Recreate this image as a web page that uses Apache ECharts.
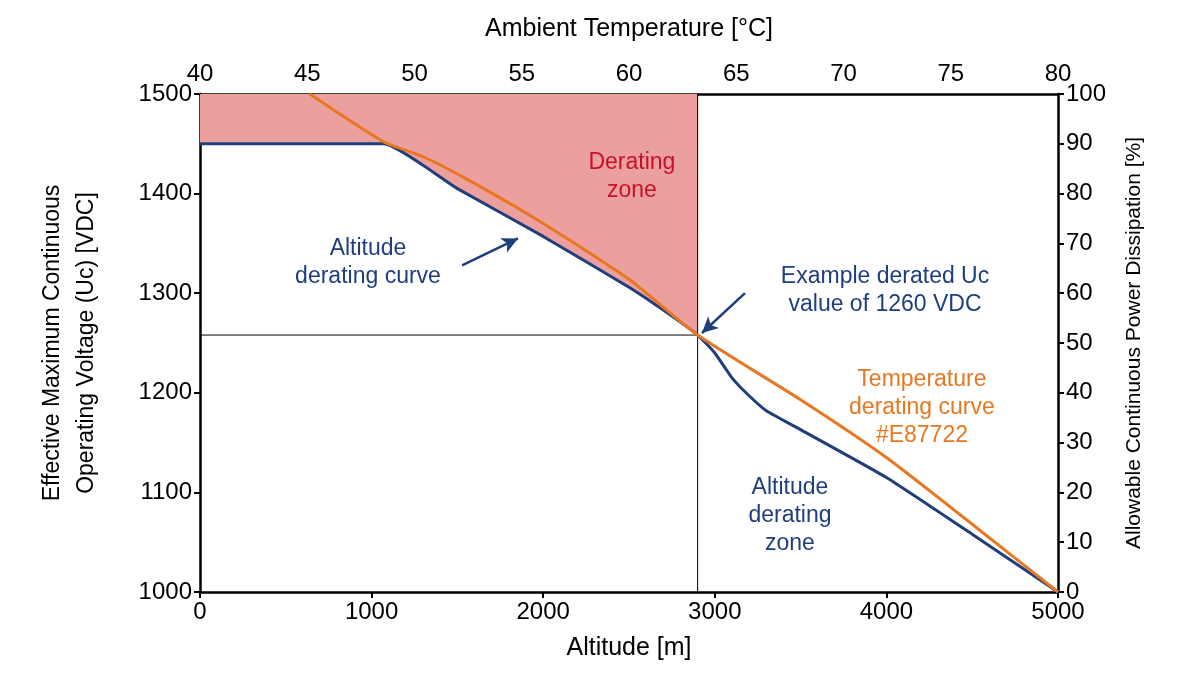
<!DOCTYPE html>
<html><head><meta charset="utf-8">
<script src="https://cdn.jsdelivr.net/npm/echarts@6/dist/echarts.min.js"></script>
<style>html,body{margin:0;background:#fff}#c{width:1200px;height:675px}</style></head>
<body><div id="c"></div>
<script>
const altitudeCurve = [[0,1450],[1070,1450],[1500,1405],[2000,1357],[2500,1306],[2700,1283],[2900,1258],[3000,1240],[3100,1215],[3200,1197],[3300,1182],[3500,1163],[4000,1115],[4500,1058],[5000,1000]];
const temperatureCurve = [[640,1500],[1070,1452],[1300,1437],[1550,1415],[2000,1370],[2500,1314],[2900,1258],[3500,1193],[4000,1135],[4500,1068],[5000,1000]];
const zoneBase = [[0,1450],[1070,1450],[1500,1405],[2000,1357],[2500,1306],[2700,1283],[2900,1258]];
const xTicks = [0,1000,2000,3000,4000,5000];
const tempTicks = [40,80];
const powerTicks = [0,100];
const voltTicks = [1000,1500];
const exampleAlt = 2900, exampleUc = 1258;

const font = 'Liberation Sans';
const axisCommon = {
  axisLine:{show:true,lineStyle:{color:'#000',width:2.5}},
  axisTick:{show:true,length:6,lineStyle:{color:'#000',width:2}},
  axisLabel:{color:'#000',fontSize:24,fontFamily:font,formatter:v=>String(v)},
  splitLine:{show:false}
};
const chart = echarts.init(document.getElementById('c'));
function txt(coord, text, color){
  return {coord, symbolSize:0, label:{show:true, position:'inside', formatter:text, color, fontSize:23, fontFamily:font, lineHeight:28, align:'center'}};
}
chart.setOption({
  animation:false,
  grid:{left:200,right:142,top:94,bottom:83},
  xAxis:[
    Object.assign({type:'value',min:xTicks[0],max:xTicks[5],interval:1000,name:'Altitude [m]',nameLocation:'middle',nameGap:44,nameTextStyle:{fontSize:25,color:'#000',fontFamily:font}},axisCommon),
    Object.assign({type:'value',position:'top',min:tempTicks[0],max:tempTicks[1],interval:5,name:'Ambient Temperature [°C]',nameLocation:'middle',nameGap:52,nameTextStyle:{fontSize:25,color:'#000',fontFamily:font}},axisCommon,{axisTick:{show:false}})
  ],
  yAxis:[
    Object.assign({type:'value',min:voltTicks[0],max:voltTicks[1],interval:100,name:'Effective Maximum Continuous\nOperating Voltage (Uc) [VDC]',nameLocation:'middle',nameGap:96,nameTextStyle:{fontSize:23,color:'#000',fontFamily:font,lineHeight:34}},axisCommon),
    Object.assign({type:'value',min:powerTicks[0],max:powerTicks[1],interval:10,name:'Allowable Continuous Power Dissipation [%]',nameLocation:'middle',nameGap:66,nameRotate:90,nameTextStyle:{fontSize:21,color:'#000',fontFamily:font}},axisCommon)
  ],
  series:[
    {type:'line',data:zoneBase,symbol:'none',smooth:0.15,lineStyle:{opacity:0},areaStyle:{color:'#eca09e',opacity:1,origin:'end'},silent:true},
    {type:'line',data:[[exampleAlt,1000],[exampleAlt,1500]],symbol:'none',lineStyle:{color:'#000',width:1}},
    {type:'line',data:[[0,exampleUc],[exampleAlt,exampleUc]],symbol:'none',lineStyle:{color:'#000',width:1}},
    {type:'line',data:altitudeCurve,symbol:'none',smooth:0.15,lineStyle:{color:'#1f3e7c',width:3},
      markLine:{silent:true,symbol:['none','arrow'],symbolSize:[12,16],lineStyle:{color:'#1f3e7c',width:2.5,type:'solid'},label:{show:false},
        data:[[{coord:[1527,1328]},{coord:[1853,1355]}],[{coord:[3176,1300]},{coord:[2925,1260]}]]},
      markPoint:{data:[
        txt([2517,1417],'Derating\nzone','#c8102e'),
        txt([979,1331],'Altitude\nderating curve','#1f3e7c'),
        txt([3992,1303],'Example derated Uc\nvalue of 1260 VDC','#1f3e7c'),
        txt([4207,1185],'Temperature\nderating curve\n#E87722','#e87722'),
        txt([3438,1077],'Altitude\nderating\nzone','#1f3e7c')
      ]}},
    {type:'line',data:temperatureCurve,symbol:'none',smooth:0.2,lineStyle:{color:'#e87722',width:3}}
  ]
});
</script></body></html>
